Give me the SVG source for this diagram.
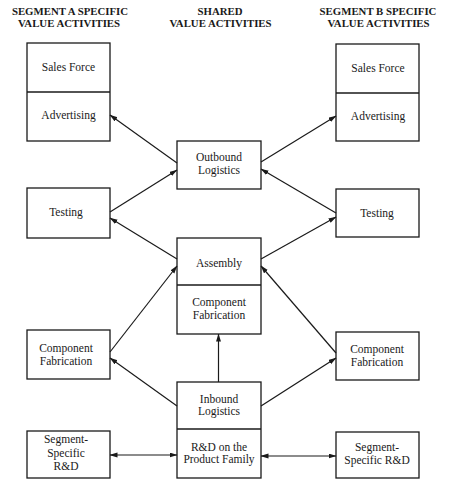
<svg xmlns="http://www.w3.org/2000/svg" width="475" height="483" viewBox="0 0 475 483">
<defs>
<style>
.bx{fill:#fff;stroke:#1a1a1a;stroke-width:1.3}
.dv{stroke:#1a1a1a;stroke-width:1.3}
.t{font-family:"Liberation Serif","Times New Roman",serif;font-size:11.5px;fill:#1a1a1a;text-anchor:middle}
.h{font-family:"Liberation Serif","Times New Roman",serif;font-size:10.8px;font-weight:bold;fill:#1a1a1a;text-anchor:middle}
.c{stroke:#1a1a1a;stroke-width:1.2;fill:none;marker-end:url(#ah)}
.d{marker-start:url(#ah)}
</style>
<marker id="ah" markerUnits="userSpaceOnUse" markerWidth="8" markerHeight="6" refX="7.5" refY="2.5" orient="auto-start-reverse">
<path d="M0,0 L8,2.5 L0,5 z" fill="#1a1a1a"/>
</marker>
</defs>
<rect width="475" height="483" fill="#fff"/>
<g id="headers">
<text class="h" x="70" y="15">SEGMENT A SPECIFIC</text>
<text class="h" x="69" y="27">VALUE ACTIVITIES</text>
<text class="h" x="220" y="15">SHARED</text>
<text class="h" x="220.5" y="27">VALUE ACTIVITIES</text>
<text class="h" x="378" y="15">SEGMENT B SPECIFIC</text>
<text class="h" x="378.5" y="27">VALUE ACTIVITIES</text>
</g>
<g id="a-marketing">
<rect class="bx" x="27" y="43" width="83" height="98"/>
<line class="dv" x1="27" y1="92" x2="110" y2="92"/>
<text class="t" x="68.5" y="71">Sales Force</text>
<text class="t" x="68.5" y="119">Advertising</text>
</g>
<g id="a-testing">
<rect class="bx" x="27" y="188" width="83" height="50"/>
<text class="t" x="66" y="216">Testing</text>
</g>
<g id="a-component">
<rect class="bx" x="27" y="330" width="83" height="49"/>
<text class="t" x="66" y="352">Component</text>
<text class="t" x="66" y="365">Fabrication</text>
</g>
<g id="a-rd">
<rect class="bx" x="27" y="431" width="83" height="47"/>
<text class="t" x="66" y="443">Segment-</text>
<text class="t" x="66" y="456.5">Specific</text>
<text class="t" x="66" y="470">R&amp;D</text>
</g>
<g id="outbound">
<rect class="bx" x="177" y="141" width="84" height="48"/>
<text class="t" x="219" y="161">Outbound</text>
<text class="t" x="219" y="174">Logistics</text>
</g>
<g id="assembly">
<rect class="bx" x="177" y="238" width="84" height="96"/>
<line class="dv" x1="177" y1="285" x2="261" y2="285"/>
<text class="t" x="219" y="267">Assembly</text>
<text class="t" x="219" y="306">Component</text>
<text class="t" x="219" y="318.5">Fabrication</text>
</g>
<g id="inbound">
<rect class="bx" x="177" y="382" width="84" height="96"/>
<line class="dv" x1="177" y1="429" x2="261" y2="429"/>
<text class="t" x="219" y="403">Inbound</text>
<text class="t" x="219" y="415">Logistics</text>
<text class="t" x="219" y="451">R&amp;D on the</text>
<text class="t" x="219" y="463">Product Family</text>
</g>
<g id="b-marketing">
<rect class="bx" x="336" y="44" width="83" height="97"/>
<line class="dv" x1="336" y1="93" x2="419" y2="93"/>
<text class="t" x="378" y="72">Sales Force</text>
<text class="t" x="378" y="120">Advertising</text>
</g>
<g id="b-testing">
<rect class="bx" x="336" y="189" width="83" height="48"/>
<text class="t" x="377" y="216.5">Testing</text>
</g>
<g id="b-component">
<rect class="bx" x="336" y="332" width="83" height="48"/>
<text class="t" x="377" y="353">Component</text>
<text class="t" x="377" y="366">Fabrication</text>
</g>
<g id="b-rd">
<rect class="bx" x="336" y="432" width="83" height="46"/>
<text class="t" x="377" y="451">Segment-</text>
<text class="t" x="377" y="464">Specific R&amp;D</text>
</g>
<g id="connectors">
<line class="c" x1="177" y1="163" x2="110" y2="115"/>
<line class="c" x1="110" y1="212" x2="177" y2="170"/>
<line class="c" x1="261" y1="162" x2="336" y2="116"/>
<line class="c" x1="336" y1="213" x2="261" y2="169"/>
<line class="c" x1="177" y1="259" x2="110" y2="218"/>
<line class="c" x1="261" y1="259" x2="336" y2="217"/>
<line class="c" x1="110" y1="352" x2="177" y2="266"/>
<line class="c" x1="336" y1="353" x2="261" y2="266"/>
<line class="c" x1="177" y1="406" x2="110" y2="358"/>
<line class="c" x1="261" y1="406" x2="336" y2="358"/>
<line class="c" x1="218.5" y1="382" x2="218.5" y2="334"/>
<line class="c d" x1="110" y1="455" x2="177" y2="455"/>
<line class="c d" x1="261" y1="456" x2="336" y2="456"/>
</g>
</svg>
